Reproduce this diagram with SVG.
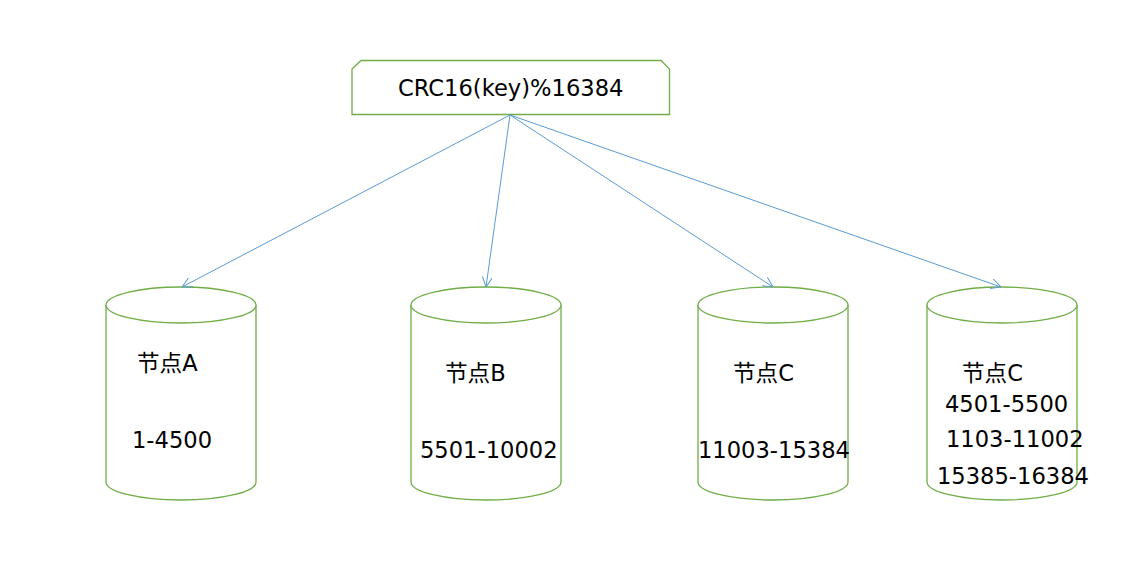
<svg xmlns="http://www.w3.org/2000/svg" width="1125" height="575" viewBox="0 0 1125 575">
<style>
.shape{fill:#fff;stroke:#70AD47;stroke-width:1.3}
.edge{fill:none;stroke:#5B9BD5;stroke-width:1}
text{font-family:"DejaVu Sans","Noto Sans CJK SC",sans-serif;font-size:22.6px;fill:#000}
</style>
<defs>
<marker id="arr" viewBox="0 0 10 10" refX="10" refY="5" markerWidth="10" markerHeight="10" markerUnits="userSpaceOnUse" orient="auto">
<path d="M0,0 L10,5 L0,10" fill="none" stroke="#5B9BD5" stroke-width="1"/>
</marker>
</defs>
<rect width="1125" height="575" fill="#fff"/>
<g id="hash">
<path class="shape" d="M352,69 L361,60.5 L661,60.5 L669.5,69 L669.5,114.5 L352,114.5 Z"/>
<text x="398" y="96">CRC16(key)%16384</text>
</g>
<g id="nodeA">
<path class="shape" d="M106,305 L106,482 A75,18 0 0 0 256,482 L256,305"/>
<ellipse class="shape" cx="181" cy="305" rx="75" ry="18"/>
<text x="137" y="371">节点A</text>
<text x="132" y="448">1-4500</text>
</g>
<g id="nodeB">
<path class="shape" d="M411,305 L411,482 A75,18 0 0 0 561,482 L561,305"/>
<ellipse class="shape" cx="486" cy="305" rx="75" ry="18"/>
<text x="445" y="381">节点B</text>
<text x="420" y="458">5501-10002</text>
</g>
<g id="nodeC">
<path class="shape" d="M698,305 L698,482 A75,18 0 0 0 848,482 L848,305"/>
<ellipse class="shape" cx="773" cy="305" rx="75" ry="18"/>
<text x="733" y="381">节点C</text>
<text x="698" y="458">11003-15384</text>
</g>
<g id="nodeD">
<path class="shape" d="M927,305 L927,482 A75,18 0 0 0 1077,482 L1077,305"/>
<ellipse class="shape" cx="1002" cy="305" rx="75" ry="18"/>
<text x="962" y="381">节点C</text>
<text x="945" y="412">4501-5500</text>
<text x="946" y="447">1103-11002</text>
<text x="937" y="484">15385-16384</text>
</g>
<g id="connectors">
<line class="edge" x1="510" y1="115" x2="182" y2="287" marker-end="url(#arr)"/>
<line class="edge" x1="510" y1="115" x2="486" y2="287" marker-end="url(#arr)"/>
<line class="edge" x1="510" y1="115" x2="773" y2="287" marker-end="url(#arr)"/>
<line class="edge" x1="510" y1="115" x2="1001" y2="287" marker-end="url(#arr)"/>
</g>
</svg>
